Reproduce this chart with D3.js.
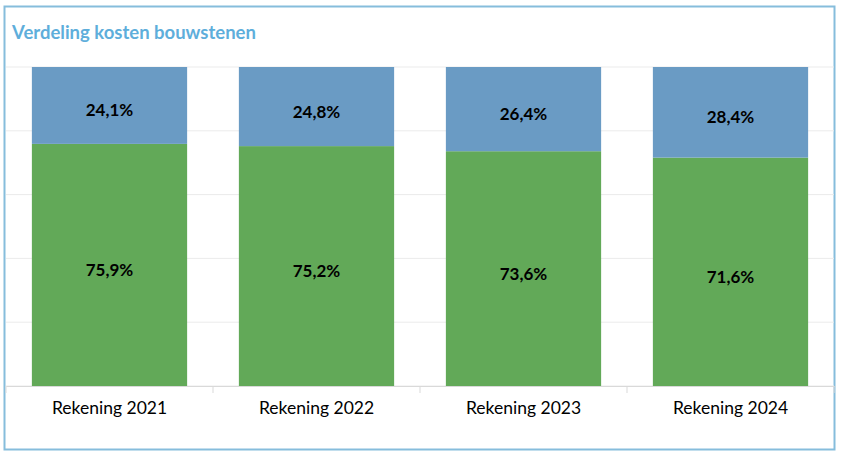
<!DOCTYPE html>
<html>
<head>
<meta charset="utf-8">
<script src="https://cdn.jsdelivr.net/npm/d3@7"></script>
<style>
  body { margin: 0; background: #fff; }
  svg { display: block; font-family: Lato, "Open Sans", sans-serif; }
</style>
</head>
<body>
<div id="chart"></div>
<script>
var categories = ['Rekening 2021', 'Rekening 2022', 'Rekening 2023', 'Rekening 2024'];
var green_values = [75.9, 75.2, 73.6, 71.6];
var blue_values = [24.1, 24.8, 26.4, 28.4];
var y_ticks = [0, 20, 40, 60, 80, 100];

var width = 845, height = 458;
var plot_left = 6, plot_right = 834, plot_top = 67, plot_bottom = 386;

var svg = d3.select('#chart')
  .append('svg')
  .attr('width', width)
  .attr('height', height);

// frame
svg.append('rect')
  .attr('x', 4.5).attr('y', 6.5)
  .attr('width', 830).attr('height', 443)
  .attr('fill', '#fff')
  .attr('stroke', '#86bddc')
  .attr('stroke-width', 2);

// title
svg.append('text')
  .attr('x', 12).attr('y', 39)
  .attr('fill', '#5eaedb')
  .attr('font-size', 18.5)
  .attr('font-weight', 'bold')
  .text('Verdeling kosten bouwstenen');

var x_scale = d3.scaleBand()
  .domain(categories)
  .range([plot_left, plot_right])
  .paddingInner(0.25)
  .paddingOuter(0.125);

var y_scale = d3.scaleLinear()
  .domain([0, 100])
  .range([plot_bottom, plot_top]);

// gridlines
svg.append('g').selectAll('line')
  .data(y_ticks)
  .enter()
  .append('line')
  .attr('x1', plot_left).attr('x2', plot_right)
  .attr('y1', function(d){ return y_scale(d); })
  .attr('y2', function(d){ return y_scale(d); })
  .attr('stroke', '#ebebeb')
  .attr('stroke-width', 1);

var rows = categories.map(function(c, i){
  return { cat: c, green: green_values[i], blue: blue_values[i] };
});

// green segments
svg.append('g').selectAll('rect')
  .data(rows)
  .enter()
  .append('rect')
  .attr('x', function(d){ return x_scale(d.cat); })
  .attr('width', x_scale.bandwidth())
  .attr('y', function(d){ return y_scale(d.green); })
  .attr('height', function(d){ return y_scale(0) - y_scale(d.green); })
  .attr('fill', '#62a958');

// blue segments
svg.append('g').selectAll('rect')
  .data(rows)
  .enter()
  .append('rect')
  .attr('x', function(d){ return x_scale(d.cat); })
  .attr('width', x_scale.bandwidth())
  .attr('y', function(d){ return y_scale(d.green + d.blue); })
  .attr('height', function(d){ return y_scale(d.green) - y_scale(d.green + d.blue); })
  .attr('fill', '#6a9bc4');

var fmt = function(v){ return v.toFixed(1).replace('.', ',') + '%'; };

// labels
var labels = svg.append('g')
  .attr('font-size', 17)
  .attr('font-weight', 'bold')
  .attr('fill', '#000')
  .attr('text-anchor', 'middle');

labels.selectAll('text.g')
  .data(rows)
  .enter()
  .append('text')
  .attr('class', 'g')
  .attr('x', function(d){ return x_scale(d.cat) + x_scale.bandwidth() / 2; })
  .attr('y', function(d){ return y_scale(d.green / 2) + 11; })
  .text(function(d){ return fmt(d.green); });

labels.selectAll('text.b')
  .data(rows)
  .enter()
  .append('text')
  .attr('class', 'b')
  .attr('x', function(d){ return x_scale(d.cat) + x_scale.bandwidth() / 2; })
  .attr('y', function(d){ return y_scale(d.green + d.blue / 2) + 11; })
  .text(function(d){ return fmt(d.blue); });

// x axis
var x_axis = d3.axisBottom(x_scale).tickSize(0).tickPadding(16);
var gx = svg.append('g')
  .attr('transform', 'translate(0,' + plot_bottom + ')')
  .call(x_axis);
gx.select('.domain').attr('stroke', '#d9d9d9');
gx.selectAll('text')
  .attr('font-size', 17.5)
  .attr('font-family', 'Lato, "Open Sans", sans-serif')
  .attr('fill', '#000');

// category separators
var step = x_scale.step();
gx.selectAll('line.sep')
  .data(d3.range(categories.length + 1))
  .enter()
  .append('line')
  .attr('class', 'sep')
  .attr('x1', function(i){ return plot_left + i * step; })
  .attr('x2', function(i){ return plot_left + i * step; })
  .attr('y1', 0).attr('y2', 7)
  .attr('stroke', '#d9d9d9');
</script>
</body>
</html>
